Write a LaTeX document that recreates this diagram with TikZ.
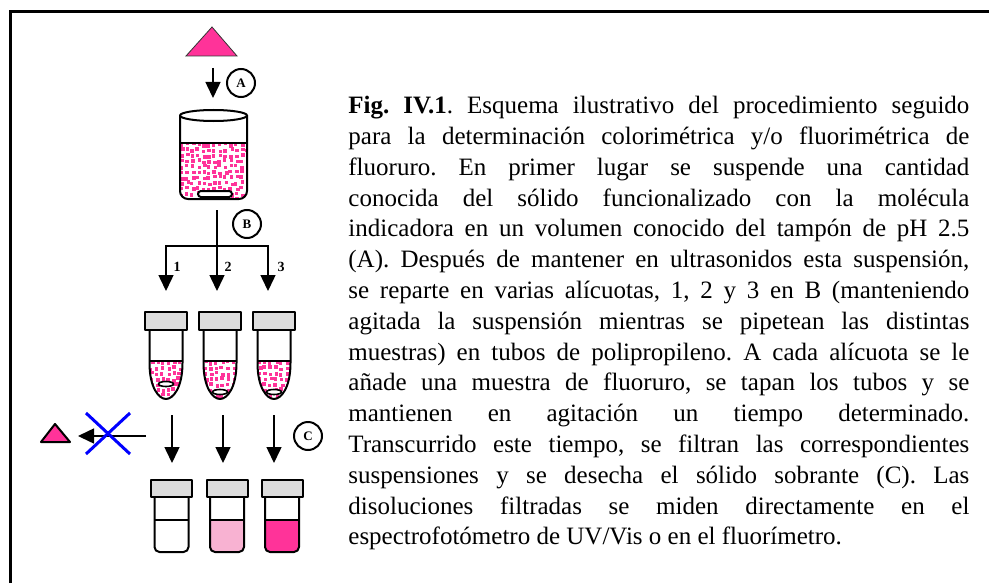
\documentclass[tikz,border=0pt]{standalone}
\usepackage{fontspec}
\setmainfont{Liberation Serif}
\usepackage{tikz}
\usetikzlibrary{arrows.meta}
\frenchspacing

\definecolor{fucsia}{RGB}{255,51,153}
\definecolor{rosapalido}{RGB}{248,178,210}
\definecolor{tapon}{RGB}{220,220,220}
\definecolor{azulx}{RGB}{0,0,255}

\begin{document}
\begin{tikzpicture}[x=0.5pt,y=-0.5pt,
    flecha/.style={line width=0.75pt,-{Triangle[length=8pt,width=7.5pt]}},
    letra/.style={circle,draw,line width=1pt,minimum size=14pt,inner sep=0pt,font=\fontsize{6.5}{7}\selectfont\bfseries},
    numero/.style={inner sep=0pt,font=\fontsize{7}{8}\selectfont\bfseries},
    pared/.style={line width=1pt,line join=round},
    grano/.style={fill=fucsia}]
  \useasboundingbox (0,0) rectangle (989,583);
  % marco
  \draw[line width=1.5pt] (10,583) -- (10,11.5) -- (989,11.5);

  % solido y paso A
  \filldraw[fill=fucsia,draw=black!80,line width=0.4pt] (186,56) -- (212,27) -- (237,56) -- cycle;
  \coordinate (a1) at (213,68);
  \coordinate (a2) at (213,98);
  \draw[flecha] (a1) -- (a2);
  \node[letra] (A) at (241,83) {A};

  % vaso con la suspension
  \begin{scope}
    \clip[rounded corners=4pt] (180,143) -- (180,199) -- (247,199) -- (247,143);
    \pgfmathsetseed{12}
    \foreach \x in {180,185.5,...,246}
      \foreach \y in {143,148.5,...,198}
        \fill[grano] ({\x+1.5*rand},{\y+1.5*rand}) rectangle +(3.5,3.5);
  \end{scope}
  \draw[pared,rounded corners=4pt] (180,115) -- (180,199) -- (247,199) -- (247,115);
  \draw[pared] (180,143) -- (247,143);
  \filldraw[pared,fill=white] (213.5,115.5) ellipse [x radius=33.5,y radius=5.5];
  \filldraw[pared,fill=white,rounded corners=1.5pt] (198,191) rectangle (232,197);

  % reparto en alicuotas (B)
  \coordinate (b0) at (217,210);
  \coordinate (b2) at (217,246);
  \coordinate (t1) at (166,291);
  \coordinate (t2) at (217,291);
  \coordinate (t3) at (268,291);
  \draw[flecha] (b0) -- (t2);
  \draw[flecha] (b2) -| (t1);
  \draw[flecha] (b2) -| (t3);
  \node[letra] (B) at (247,224) {B};
  \node[numero] (n1) at (177,267) {1};
  \node[numero] (n2) at (228,267) {2};
  \node[numero] (n3) at (281,267) {3};

  % tubos de polipropileno
  \foreach \c/\p in {166/384,220/392,274/392} {
    \begin{scope}
      \clip (\c-16.5,361) -- (\c-16.5,363) .. controls (\c-16.5,388) and (\c-7,399) .. (\c,399)
        .. controls (\c+7,399) and (\c+16.5,388) .. (\c+16.5,363) -- (\c+16.5,361) -- cycle;
      \foreach \x in {-16,-10.5,...,14}
        \foreach \y in {361,366.5,...,396}
          \fill[grano] ({\c+\x+1.5*rand},{\y+1.5*rand}) rectangle +(3.5,3.5);
    \end{scope}
    \draw[pared] (\c-16.5,330) -- (\c-16.5,363) .. controls (\c-16.5,388) and (\c-7,399) .. (\c,399)
      .. controls (\c+7,399) and (\c+16.5,388) .. (\c+16.5,363) -- (\c+16.5,330);
    \draw[pared] (\c-16.5,361) -- (\c+16.5,361);
    \filldraw[line width=0.8pt,fill=white] (\c,\p) ellipse [x radius=7.5,y radius=2.5];
    \filldraw[pared,fill=tapon] (\c-21,312) rectangle (\c+21,330);
  }

  % filtrado (C)
  \foreach \c [count=\i] in {172,223,274} {
    \coordinate (c\i) at (\c,415);
    \coordinate (d\i) at (\c,463);
    \draw[flecha] (c\i) -- (d\i);
  }
  \node[letra] (C) at (308,436) {C};

  % solido desechado
  \coordinate (r0) at (146,436);
  \coordinate (r1) at (78,436);
  \draw[flecha] (r0) -- (r1);
  \draw[azulx,line width=1.5pt] (86,413) -- (130,454) (130,413) -- (86,454);
  \filldraw[fill=fucsia,draw=black,line width=1pt,line join=round] (41,442) -- (55,424) -- (70,442) -- cycle;

  % viales con las disoluciones
  \foreach \c/\col in {171.5/white,227/rosapalido,282/fucsia} {
    \fill[\col,rounded corners=2.5pt] (\c-17,520) -- (\c-17,552) -- (\c+17,552) -- (\c+17,520);
    \draw[pared,rounded corners=2.5pt] (\c-17,497) -- (\c-17,552) -- (\c+17,552) -- (\c+17,497);
    \draw[pared] (\c-17,520) -- (\c+17,520);
    \filldraw[pared,fill=tapon] (\c-20.5,480) rectangle (\c+20.5,497);
  }

  % pie de figura
  \node[anchor=north west,inner sep=0pt,text width=310.5pt,align=justify,
        font=\fontsize{12.5}{15.4}\selectfont] (pie) at (348,96)
    {\hyphenpenalty=10000
     \textbf{Fig. IV.1}. Esquema ilustrativo del procedimiento seguido\linebreak
     para la determinación colorimétrica y/o fluorimétrica de\linebreak
     fluoruro. En primer lugar se suspende una cantidad\linebreak
     conocida del sólido funcionalizado con la molécula\linebreak
     indicadora en un volumen conocido del tampón de pH 2.5\linebreak
     (A). Después de mantener en ultrasonidos esta suspensión,\linebreak
     se reparte en varias alícuotas, 1, 2 y 3 en B (manteniendo\linebreak
     agitada la suspensión mientras se pipetean las distintas\linebreak
     muestras) en tubos de polipropileno. A cada alícuota se le\linebreak
     añade una muestra de fluoruro, se tapan los tubos y se\linebreak
     mantienen en agitación un tiempo determinado.\linebreak
     Transcurrido este tiempo, se filtran las correspondientes\linebreak
     suspensiones y se desecha el sólido sobrante (C). Las\linebreak
     disoluciones filtradas se miden directamente en el\linebreak
     espectrofotómetro de UV/Vis o en el fluorímetro.};
\end{tikzpicture}
\end{document}
